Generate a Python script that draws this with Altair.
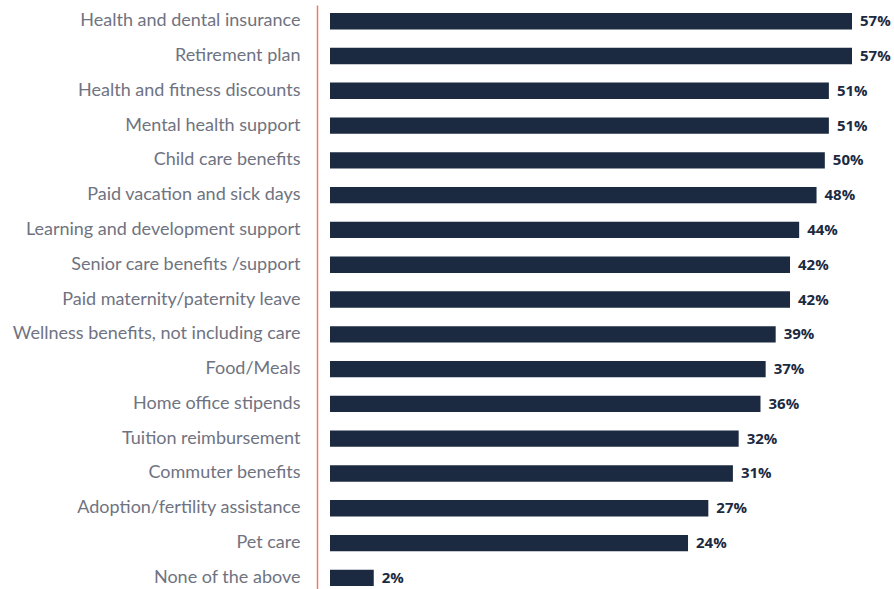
import altair as alt
import pandas as pd

categories = [
    "Health and dental insurance",
    "Retirement plan",
    "Health and fitness discounts",
    "Mental health support",
    "Child care benefits",
    "Paid vacation and sick days",
    "Learning and development support",
    "Senior care benefits /support",
    "Paid maternity/paternity leave",
    "Wellness benefits, not including care",
    "Food/Meals",
    "Home office stipends",
    "Tuition reimbursement",
    "Commuter benefits",
    "Adoption/fertility assistance",
    "Pet care",
    "None of the above",
]
values = [57, 57, 51, 51, 50, 48, 44, 42, 42, 39, 37, 36, 32, 31, 27, 24, 2]

df = pd.DataFrame({"benefit": categories, "pct": values})
df["label"] = df["pct"].astype(str) + "%"

BAR = "#1b2a41"

y_enc = alt.Y(
    "benefit:N",
    sort=categories,
    title=None,
    scale=alt.Scale(paddingInner=0.53, paddingOuter=0.158, align=0.73),
    axis=alt.Axis(
        offset=13,
        domainColor="#ee7a6a",
        domainWidth=1.5,
        ticks=False,
        tickSize=0,
        labelPadding=17,
        labelFont="Lato",
        labelFontSize=18,
        labelColor="#6f7381",
        labelLimit=400,
    ),
)

# The reference's bars are drawn on a compressed (non-linear) length scale
x_scale = alt.Scale(type="pow", exponent=0.25, domain=[1.2, 57], zero=False,
                    nice=False, clamp=True)

bars = alt.Chart(df).mark_bar(color=BAR).encode(
    x=alt.X("pct:Q", scale=x_scale, axis=None),
    y=y_enc,
)

text = alt.Chart(df).mark_text(
    align="left", baseline="middle", dx=8, font="Open Sans", fontWeight="bold",
    fontSize=15, color=BAR,
).encode(
    x=alt.X("pct:Q", scale=x_scale, axis=None),
    y=alt.Y("benefit:N", sort=categories),
    text="label:N",
)

chart = (
    alt.layer(bars, text)
    .properties(
        width=522,
        height=584,
        autosize=alt.AutoSizeParams(type="none"),
        padding={"left": 330, "top": 5, "right": 42, "bottom": 0},
        background="white",
    )
    .configure_view(stroke=None)
)

chart.save("out.html", embed_options={"renderer": "svg", "actions": False})
